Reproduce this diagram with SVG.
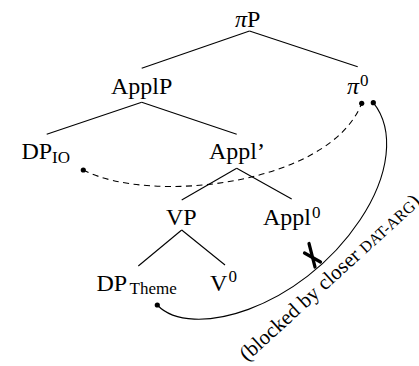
<svg xmlns="http://www.w3.org/2000/svg" width="419" height="366" viewBox="0 0 419 366" font-family="'Liberation Serif', 'DejaVu Serif', serif">
<style>
text, tspan{font-family:"Liberation Serif","DejaVu Serif",serif;fill:#000}
.lab{font-size:24px}
.sub{font-size:17px}
.it{font-style:italic}
.edge{stroke:#000;stroke-width:1.1;fill:none}
.dot{fill:#000}
</style>
<rect width="419" height="366" fill="#fff"/>
<g id="connectors">
<line class="edge" x1="249.5" y1="31" x2="141.7" y2="68.3"/>
<line class="edge" x1="249.5" y1="31" x2="357.7" y2="66.7"/>
<line class="edge" x1="141.7" y1="102.3" x2="46.7" y2="134.3"/>
<line class="edge" x1="141.7" y1="102.3" x2="236.7" y2="134.3"/>
<line class="edge" x1="236.7" y1="168.3" x2="181.7" y2="200"/>
<line class="edge" x1="236.7" y1="168.3" x2="291.7" y2="199"/>
<line class="edge" x1="181.7" y1="230" x2="138.3" y2="266"/>
<line class="edge" x1="181.7" y1="230" x2="225" y2="265"/>
<path class="edge" stroke-dasharray="6 4.5" d="M83.3 170 C150 205,330 185,361.7 103.3"/>
<path class="edge" d="M157.3 305 C190 340,300 310,360 220 C390 175,395 130,373.3 102.7"/>
<circle class="dot" cx="83.3" cy="170" r="2.6"/>
<circle class="dot" cx="361.7" cy="103.3" r="2.6"/>
<circle class="dot" cx="373.3" cy="102.7" r="2.6"/>
<circle class="dot" cx="157.3" cy="305" r="2.6"/>
<g stroke="#000" stroke-width="3.2" stroke-linecap="round">
<line x1="309" y1="243.5" x2="315" y2="267"/>
<line x1="304.5" y1="253" x2="320.5" y2="262"/>
</g>
<text transform="translate(247 362) rotate(-42.3)" font-size="21">(blocked by closer <tspan font-size="16">DAT-ARG</tspan>)</text>
</g>
<g id="piP"><text class="lab" x="235" y="27"><tspan class="it">π</tspan>P</text></g>
<g id="ApplP"><text class="lab" x="111" y="93.5">ApplP</text></g>
<g id="pi0"><text class="lab" x="347" y="94"><tspan class="it">π</tspan></text><text class="sub" x="360" y="86">0</text></g>
<g id="DPIO"><text class="lab" x="21.5" y="159">DP</text><text class="sub" x="52" y="162.5">IO</text></g>
<g id="ApplBar"><text class="lab" x="209" y="158.5">Appl’</text></g>
<g id="VP"><text class="lab" x="166" y="225">VP</text></g>
<g id="Appl0"><text class="lab" x="263" y="225">Appl</text><text class="sub" x="312" y="217.5">0</text></g>
<g id="DPTheme"><text class="lab" x="96.5" y="290.5">DP</text><text class="sub" x="129.5" y="294">Theme</text></g>
<g id="V0"><text class="lab" x="210" y="290.5">V</text><text class="sub" x="228.5" y="282">0</text></g>
</svg>
